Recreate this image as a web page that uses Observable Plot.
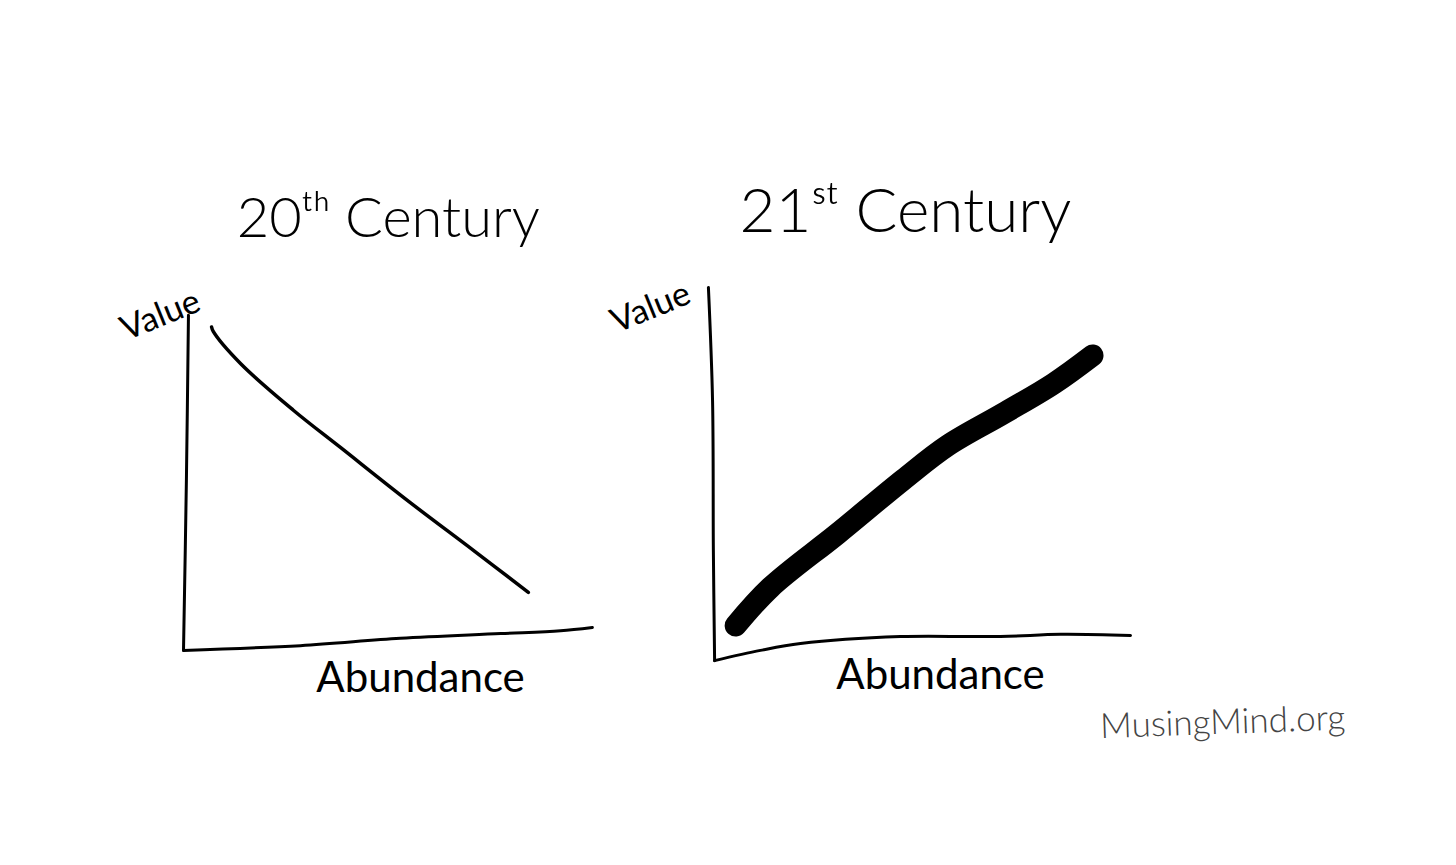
<!DOCTYPE html>
<html>
<head>
<meta charset="utf-8">
<script src="https://cdn.jsdelivr.net/npm/d3@7"></script>
<script src="https://cdn.jsdelivr.net/npm/@observablehq/plot@0.6"></script>
<style>
  html, body { margin: 0; padding: 0; background: #ffffff; }
  #chart svg { display: block; }
</style>
</head>
<body>
<div id="chart"></div>
<script>
// Panels
const panels = ["20th", "21st"];
const titles = ["20ᵗʰ Century", "21ˢᵗ Century"];
const titleSizes = [56, 62];

// Hand-drawn axis strokes (abundance, value) in sketch units
const leftYAxisX = [0.12, 0.07, 0.0];
const leftYAxisY = [9.32, 4.79, 0.14];
const leftXAxisX = [0.0, 2.83, 5.25, 7.68, 9.13, 9.9];
const leftXAxisY = [0.14, 0.27, 0.47, 0.6, 0.68, 0.77];
const rightYAxisX = [-0.22, -0.12, -0.1, -0.07];
const rightYAxisY = [10.08, 6.99, 2.88, -0.14];
const rightXAxisX = [-0.07, 1.04, 2.01, 4.43, 6.85, 8.31, 10.0];
const rightXAxisY = [-0.14, 0.14, 0.33, 0.52, 0.52, 0.58, 0.55];

// 20th century: value falls as abundance rises
const c20Abundance = [0.68, 0.72, 1.38, 2.66, 3.8, 5.42, 7.02, 8.35];
const c20Value = [9.0, 8.88, 8.0, 6.72, 5.7, 4.25, 2.88, 1.73];

// 21st century: value rises with abundance
const c21Abundance = [0.44, 1.28, 2.91, 4.5, 5.57, 6.92, 8.14, 9.08];
const c21Value = [0.82, 1.86, 3.34, 4.82, 5.75, 6.63, 7.45, 8.22];

// Label anchors (sketch units)
const titleX = [4.96, 4.55];
const titleY = [11.95, 12.15];
const valueLabelX = [-0.56, -1.62];
const valueLabelY = [9.32, 9.53];
const abundanceLabelX = [5.74, 5.4];
const abundanceLabelY = [-0.63, -0.55];
const credit = "MusingMind.org";
const creditX = 12.23;
const creditY = -1.84;

const toPts = (p, xs, ys) => xs.map((x, i) => ({panel: p, x, y: ys[i]}));
const axes = [
  {id: "l-y", pts: toPts("20th", leftYAxisX, leftYAxisY)},
  {id: "l-x", pts: toPts("20th", leftXAxisX, leftXAxisY)},
  {id: "r-y", pts: toPts("21st", rightYAxisX, rightYAxisY)},
  {id: "r-x", pts: toPts("21st", rightXAxisX, rightXAxisY)}
].flatMap(a => a.pts.map(d => ({...d, id: a.id})));
const line20 = toPts("20th", c20Abundance, c20Value);
const line21 = toPts("21st", c21Abundance, c21Value);
const titleData = panels.map((p, i) => ({panel: p, x: titleX[i], y: titleY[i], text: titles[i], size: titleSizes[i]}));
const valueData = panels.map((p, i) => ({panel: p, x: valueLabelX[i], y: valueLabelY[i], text: "Value"}));
const abundData = panels.map((p, i) => ({panel: p, x: abundanceLabelX[i], y: abundanceLabelY[i], text: "Abundance"}));
const creditData = [{panel: "21st", x: creditX, y: creditY, text: credit}];

const font = "Lato, 'DejaVu Sans', sans-serif";

const chart = Plot.plot({
  width: 1456,
  height: 865,
  marginLeft: 183,
  marginRight: 326,
  marginTop: 290,
  marginBottom: 210,
  fx: {domain: panels, axis: null, paddingInner: 0.227, paddingOuter: 0},
  x: {domain: [0, 10], axis: null},
  y: {domain: [0, 10], axis: null},
  style: {fontFamily: font, background: "#ffffff", overflow: "visible"},
  marks: [
    Plot.line(axes, {x: "x", y: "y", fx: "panel", z: "id", stroke: "#000", strokeWidth: 3, curve: "catmull-rom", strokeLinecap: "round"}),
    Plot.line(line20, {x: "x", y: "y", fx: "panel", stroke: "#000", strokeWidth: 3.5, curve: "catmull-rom", strokeLinecap: "round"}),
    Plot.line(line21, {x: "x", y: "y", fx: "panel", stroke: "#000", strokeWidth: 22, curve: "catmull-rom", strokeLinecap: "round", strokeLinejoin: "round"}),
    Plot.text(titleData, {x: "x", y: "y", fx: "panel", text: "text", fontSize: d => d.size, fontWeight: 300, fill: "#000"}),
    Plot.text(valueData, {x: "x", y: "y", fx: "panel", text: "text", fontSize: 34, fontWeight: 400, rotate: -22, fill: "#000"}),
    Plot.text(abundData, {x: "x", y: "y", fx: "panel", text: "text", fontSize: 42, fontWeight: 400, fill: "#000"}),
    Plot.text(creditData, {x: "x", y: "y", fx: "panel", text: "text", fontSize: 35, fontWeight: 300, fill: "#444", rotate: -2})
  ]
});
document.getElementById("chart").append(chart);
</script>
</body>
</html>
